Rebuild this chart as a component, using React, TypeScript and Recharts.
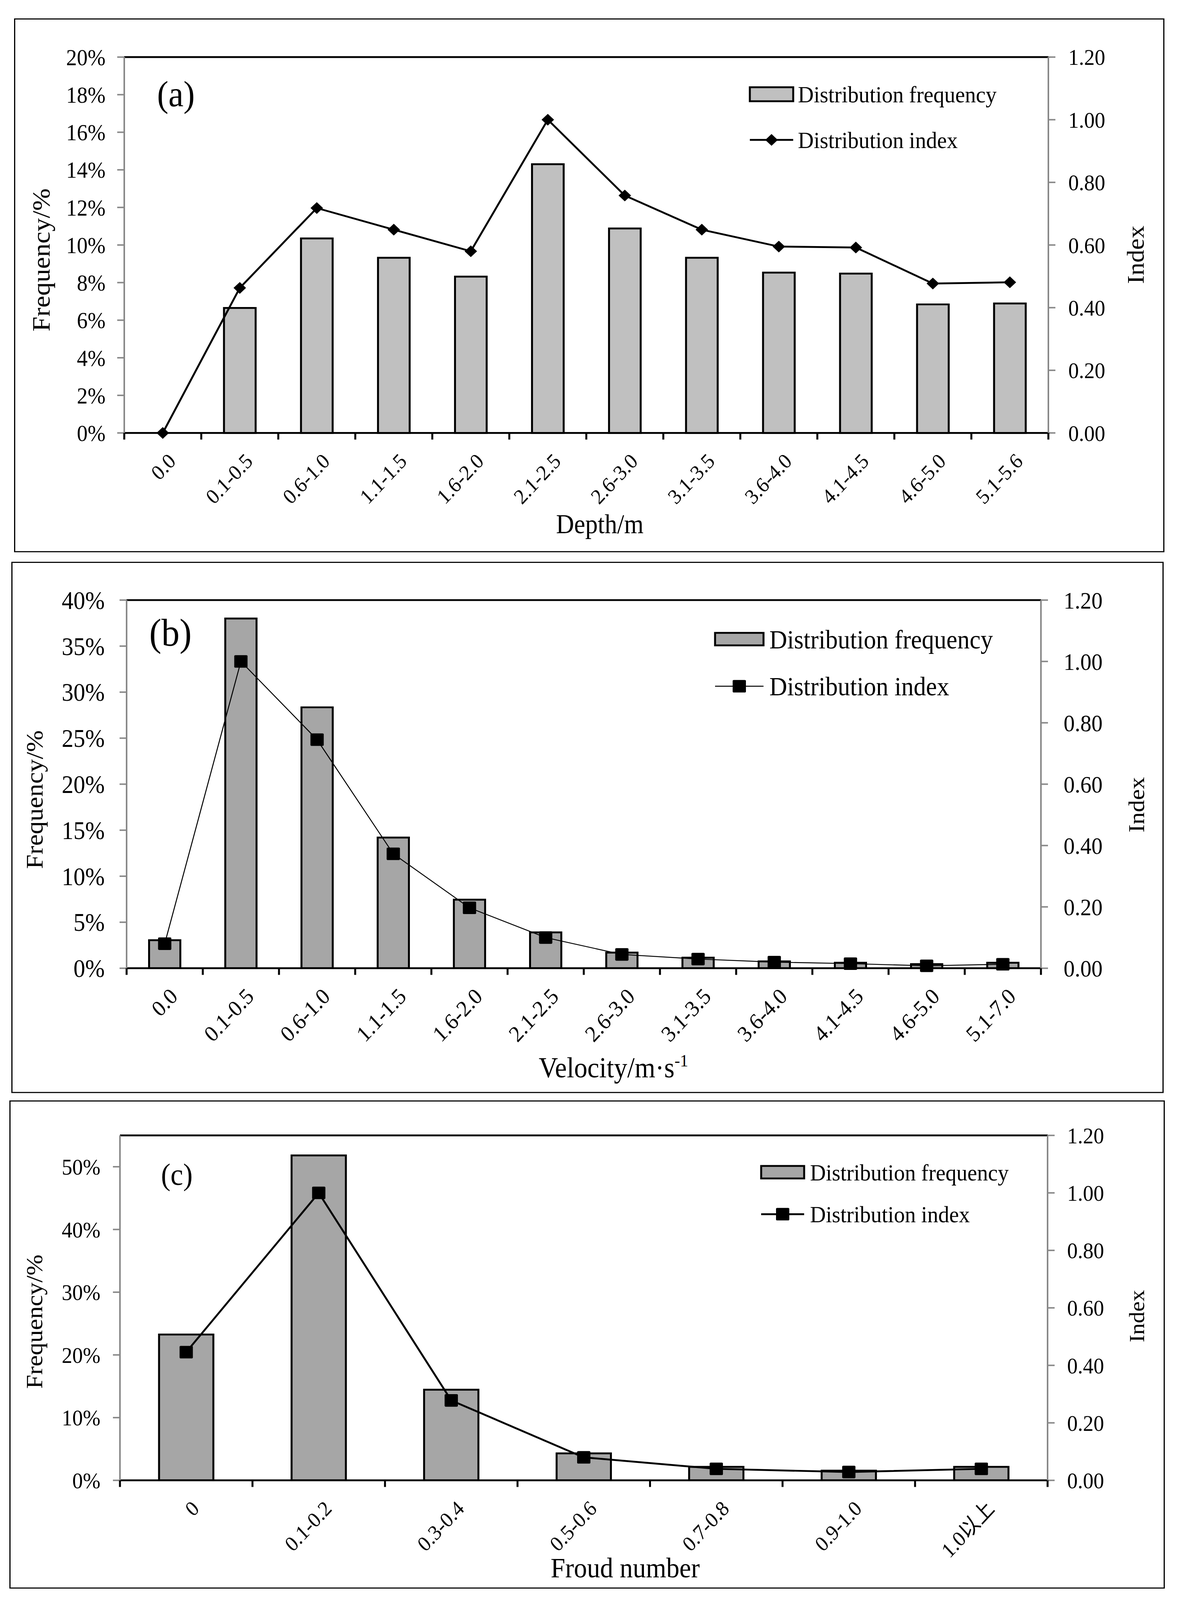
import React from 'react';
import { ComposedChart, Bar, Line, XAxis, YAxis, ReferenceLine, Customized } from 'recharts';

const FONT = "'Liberation Serif', 'Times New Roman', 'Noto Sans CJK SC', serif";
// the source picture is stretched vertically, so text is too
const SY = 1.14;
const PAGE_W = 3025;
const PAGE_H = 4346;

// (a) depth
const depthCats = ['0.0', '0.1-0.5', '0.6-1.0', '1.1-1.5', '1.6-2.0', '2.1-2.5', '2.6-3.0', '3.1-3.5', '3.6-4.0', '4.1-4.5', '4.6-5.0', '5.1-5.6'];
const depthFreq = [0, 6.65, 10.35, 9.32, 8.32, 14.3, 10.88, 9.32, 8.53, 8.48, 6.84, 6.89];
const depthIndex = [0, 0.463, 0.718, 0.649, 0.58, 1.0, 0.758, 0.649, 0.595, 0.592, 0.477, 0.481];
const depthTicks = [0, 2, 4, 6, 8, 10, 12, 14, 16, 18, 20];

// (b) velocity
const velCats = ['0.0', '0.1-0.5', '0.6-1.0', '1.1-1.5', '1.6-2.0', '2.1-2.5', '2.6-3.0', '3.1-3.5', '3.6-4.0', '4.1-4.5', '4.6-5.0', '5.1-7.0'];
const velFreq = [3.05, 38.0, 28.35, 14.2, 7.45, 3.9, 1.7, 1.15, 0.75, 0.6, 0.45, 0.6];
const velIndex = [0.08, 1.0, 0.745, 0.373, 0.197, 0.1, 0.045, 0.03, 0.02, 0.015, 0.008, 0.013];
const velTicks = [0, 5, 10, 15, 20, 25, 30, 35, 40];

// (c) froude number
const frCats = ['0', '0.1-0.2', '0.3-0.4', '0.5-0.6', '0.7-0.8', '0.9-1.0', '1.0以上'];
const frFreq = [23.25, 51.8, 14.45, 4.3, 2.15, 1.55, 2.15];
const frIndex = [0.446, 1.0, 0.278, 0.08, 0.04, 0.029, 0.04];
const frTicks = [0, 10, 20, 30, 40, 50];

const indexTicks = [0, 0.2, 0.4, 0.6, 0.8, 1.0, 1.2];

const panels = [
  {
    key: 'a',
    box: { x: 36, y: 50, w: 2944, h: 1450 },
    plot: { l: 282, t: 105, r: 2647, b: 1126 },
    cats: depthCats, freq: depthFreq, idx: depthIndex,
    freqMax: 20, freqTicks: depthTicks,
    barFill: '#c0c0c0', lineWidth: 5, marker: 'diamond', markerSize: 32,
    tickFont: 55, rTickFont: 54, catFont: 51, leftGap: 48, rightGap: 51,
    tag: { text: '(a)', x: 366, y: 239, size: 87 },
    xTitle: { text: 'Depth/m', x: 1499, y: 1398, size: 64 },
    yTitle: { x: 91, y: 656, size: 64 },
    rTitle: { x: 2891, y: 642, size: 61 },
    legend: { bx: 1883, bw: 111, bh: 38, tx: 2006, r1: 206, r2: 330, size: 56 },
  },
  {
    key: 'b',
    box: { x: 29, y: 1526, w: 2949, h: 1443 },
    plot: { l: 295, t: 104, r: 2635, b: 1104 },
    cats: velCats, freq: velFreq, idx: velIndex,
    freqMax: 40, freqTicks: velTicks,
    barFill: '#a6a6a6', lineWidth: 2.5, marker: 'square', markerSize: 34,
    tickFont: 60, rTickFont: 57, catFont: 54, leftGap: 56, rightGap: 58,
    tag: { text: '(b)', x: 353, y: 228, size: 93 },
    xTitle: { text: 'Velocity/m·s', sup: '-1', x: 1541, y: 1400, size: 68 },
    yTitle: { x: 80, y: 646, size: 62 },
    rTitle: { x: 2899, y: 660, size: 58 },
    legend: { bx: 1801, bw: 124, bh: 34, tx: 1940, r1: 210, r2: 338, size: 63 },
  },
  {
    key: 'c',
    box: { x: 24, y: 2989, w: 2957, h: 1326 },
    plot: { l: 283, t: 95, r: 2657, b: 1032 },
    cats: frCats, freq: frFreq, idx: frIndex,
    freqMax: 55, freqTicks: frTicks,
    barFill: '#a6a6a6', lineWidth: 5, marker: 'square', markerSize: 34,
    tickFont: 54, rTickFont: 54, catFont: 51, leftGap: 50, rightGap: 50,
    tag: { text: '(c)', x: 388, y: 229, size: 73 },
    xTitle: { text: 'Froud number', x: 1576, y: 1295, size: 67 },
    yTitle: { x: 84, y: 601, size: 60 },
    rTitle: { x: 2904, y: 586, size: 55 },
    legend: { bx: 1924, bw: 110, bh: 34, tx: 2049, r1: 195, r2: 309, size: 56 },
  },
];

if (typeof document !== 'undefined') {
  document.body.style.margin = '0';
  document.body.style.overflow = 'hidden';
}

function st(x: number, y: number, rot?: number) {
  return `translate(${x},${y}) scale(1,${SY})${rot ? ` rotate(${rot})` : ''}`;
}

function Marker({ cx, cy, kind, size }: any) {
  if (cx == null || cy == null) return null;
  const h = size / 2;
  if (kind === 'diamond') {
    return <path d={`M${cx},${cy - h} L${cx + h},${cy} L${cx},${cy + h} L${cx - h},${cy} Z`} fill="#000" />;
  }
  return <rect x={cx - h} y={cy - h} width={size} height={size} rx={3} fill="#000" />;
}

function Decor({ cfg }: any) {
  const { legend: lg, tag, xTitle, yTitle, rTitle } = cfg;
  const mid = lg.bx + lg.bw / 2;
  return (
    <g fontFamily={FONT} fill="#000">
      <text transform={st(tag.x, tag.y)} fontSize={tag.size}>{tag.text}</text>
      <text transform={st(xTitle.x, xTitle.y)} fontSize={xTitle.size} textAnchor="middle">
        {xTitle.text}
        {xTitle.sup && <tspan dy={-xTitle.size * 0.38} fontSize={xTitle.size * 0.62}>{xTitle.sup}</tspan>}
      </text>
      <text transform={st(yTitle.x, yTitle.y, -90)} fontSize={yTitle.size} textAnchor="middle">Frequency/%</text>
      <text transform={st(rTitle.x, rTitle.y, -90)} fontSize={rTitle.size} textAnchor="middle">Index</text>
      <rect x={lg.bx} y={lg.r1 - lg.bh / 2} width={lg.bw} height={lg.bh} fill={cfg.barFill} stroke="#000" strokeWidth={5} />
      <text transform={st(lg.tx, lg.r1)} dy="0.35em" fontSize={lg.size}>Distribution frequency</text>
      <line x1={lg.bx} x2={lg.bx + lg.bw} y1={lg.r2} y2={lg.r2} stroke="#000" strokeWidth={cfg.lineWidth} />
      <Marker cx={mid} cy={lg.r2} kind={cfg.marker} size={cfg.markerSize} />
      <text transform={st(lg.tx, lg.r2)} dy="0.35em" fontSize={lg.size}>Distribution index</text>
    </g>
  );
}

function Panel({ cfg }: any) {
  const { box, plot } = cfg;
  const data = cfg.cats.map((c: string, i: number) => ({ cat: c, freq: cfg.freq[i], index: cfg.idx[i] }));
  const band = (plot.r - plot.l) / cfg.cats.length;
  const n = cfg.cats.length;

  const leftTick = (p: any) => (
    <text transform={st(p.x, p.y)} dy="0.35em" textAnchor="end" fontSize={cfg.tickFont} fontFamily={FONT} fill="#000">
      {`${p.payload.value}%`}
    </text>
  );
  const rightTick = (p: any) => (
    <text transform={st(p.x, p.y)} dy="0.35em" textAnchor="start" fontSize={cfg.rTickFont} fontFamily={FONT} fill="#000">
      {Number(p.payload.value).toFixed(2)}
    </text>
  );
  const catTick = (p: any) => {
    const y0 = plot.b;
    return (
      <g>
        <line x1={p.x - band / 2} x2={p.x - band / 2} y1={y0} y2={y0 + 18} stroke="#000" strokeWidth={5} />
        {p.index === n - 1 && <line x1={p.x + band / 2} x2={p.x + band / 2} y1={y0} y2={y0 + 18} stroke="#000" strokeWidth={5} />}
        <text transform={st(p.x + 36, y0 + 80, -45)} textAnchor="end" fontSize={cfg.catFont} fontFamily={FONT} fill="#000">
          {p.payload.value}
        </text>
      </g>
    );
  };

  return (
    <div style={{ position: 'absolute', left: box.x, top: box.y, width: box.w, height: box.h }}>
      <ComposedChart
        width={box.w}
        height={box.h}
        data={data}
        margin={{ top: plot.t, right: 0, bottom: 0, left: 0 }}
        barCategoryGap="29.5%"
      >
        <XAxis
          dataKey="cat"
          height={box.h - plot.b}
          interval={0}
          axisLine={{ stroke: '#000', strokeWidth: 5 }}
          tickLine={false}
          tickSize={18}
          tick={catTick}
        />
        <YAxis
          yAxisId="left"
          width={plot.l}
          domain={[0, cfg.freqMax]}
          ticks={cfg.freqTicks}
          interval={0}
          axisLine={{ stroke: '#888', strokeWidth: 4 }}
          tickLine={{ stroke: '#888', strokeWidth: 4 }}
          tickSize={18}
          tickMargin={cfg.leftGap - 18}
          tick={leftTick}
        />
        <YAxis
          yAxisId="right"
          orientation="right"
          width={box.w - plot.r}
          domain={[0, 1.2]}
          ticks={indexTicks}
          interval={0}
          axisLine={{ stroke: '#888', strokeWidth: 4 }}
          tickLine={{ stroke: '#888', strokeWidth: 4 }}
          tickSize={18}
          tickMargin={cfg.rightGap - 18}
          tick={rightTick}
        />
        <ReferenceLine yAxisId="left" y={cfg.freqMax} stroke="#000" strokeWidth={5} />
        <Bar dataKey="freq" yAxisId="left" fill={cfg.barFill} stroke="#000" strokeWidth={5} isAnimationActive={false} />
        <Line
          dataKey="index"
          yAxisId="right"
          type="linear"
          stroke="#000"
          strokeWidth={cfg.lineWidth}
          activeDot={false}
          isAnimationActive={false}
          dot={(p: any) => <Marker key={p.key ?? p.index} cx={p.cx} cy={p.cy} kind={cfg.marker} size={cfg.markerSize} />}
        />
        <Customized component={<Decor cfg={cfg} />} />
      </ComposedChart>
      <div style={{ position: 'absolute', inset: 0, border: '3px solid #000', boxSizing: 'border-box', pointerEvents: 'none' }} />
    </div>
  );
}

export default function App() {
  // fit the whole page into the visible window
  const vw = (typeof window !== 'undefined' && window.innerWidth) || PAGE_W;
  const vh = (typeof window !== 'undefined' && window.innerHeight) || PAGE_H;
  const sx = Math.min(1, vw / PAGE_W);
  const sy = Math.min(1, vh / PAGE_H);
  return (
    <div
      style={{
        position: 'fixed',
        left: 0,
        top: 0,
        width: PAGE_W,
        height: PAGE_H,
        background: '#fff',
        transform: `scale(${sx},${sy})`,
        transformOrigin: '0 0',
      }}
    >
      {panels.map((p) => (
        <Panel key={p.key} cfg={p} />
      ))}
    </div>
  );
}
